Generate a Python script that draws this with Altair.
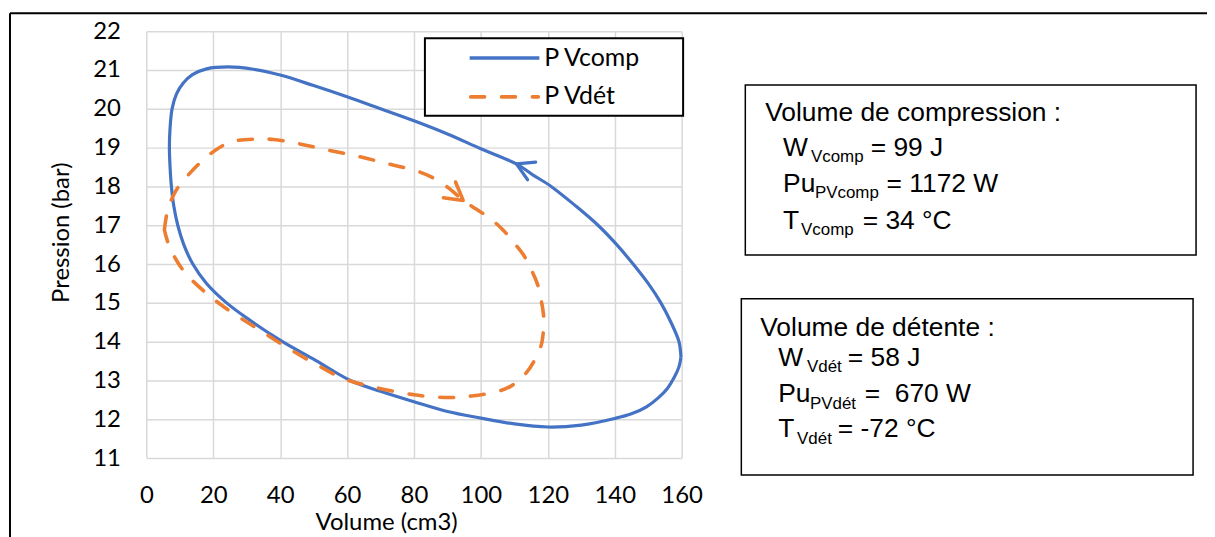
import altair as alt
import pandas as pd

# ---------------- data ----------------
x_ticks = [0, 20, 40, 60, 80, 100, 120, 140, 160]
y_ticks = [11, 12, 13, 14, 15, 16, 17, 18, 19, 20, 21, 22]
series_names = ["P Vcomp", "P Vdét"]

vcomp_volume = [159.8, 159.2, 156.8, 153.8, 150.0, 145.5, 140.6, 135.0, 128.3, 121.0,
                115.5, 110.6, 100.0, 90.0, 80.0, 70.0, 60.0, 50.0, 40.0, 32.0,
                24.5, 18.0, 13.8, 11.0, 9.0, 7.7, 7.1, 6.9, 7.1, 7.5,
                8.2, 9.4, 11.2, 13.9, 18.0, 24.0, 31.0, 40.7, 50.6, 61.0,
                70.0, 80.0, 90.0, 100.0, 110.0, 120.0, 130.0, 140.0, 145.0, 149.5,
                153.0, 155.8, 157.8, 159.2, 159.8]
vcomp_pressure = [13.6, 14.0, 14.5, 15.0, 15.5, 16.0, 16.5, 17.0, 17.5, 18.0,
                  18.3, 18.58, 18.97, 19.35, 19.69, 20.0, 20.31, 20.6, 20.87, 21.02,
                  21.08, 21.03, 20.88, 20.66, 20.38, 20.0, 19.5, 19.0, 18.5, 18.0,
                  17.5, 17.0, 16.5, 16.0, 15.5, 15.0, 14.55, 14.0, 13.52, 13.0,
                  12.72, 12.45, 12.2, 12.03, 11.88, 11.8, 11.85, 12.02, 12.14, 12.32,
                  12.55, 12.8, 13.08, 13.35, 13.6]

vdet_volume = [5.4, 6.4, 8.9, 12.9, 17.9, 22.8, 27.0, 32.5, 38.0, 45.6,
               54.1, 63.5, 72.9, 80.4, 85.3, 90.5, 94.7, 98.7, 102.7, 106.6,
               109.6, 112.7, 114.9, 116.8, 118.0, 118.8, 118.6, 118.0, 116.2, 113.6,
               109.1, 105.1, 97.2, 90.0, 80.0, 68.5, 59.5, 50.6, 41.7, 33.7,
               25.8, 17.9, 10.9, 6.9, 5.4]
vdet_pressure = [16.88, 17.39, 17.9, 18.33, 18.75, 19.05, 19.18, 19.22, 19.21, 19.1,
                 18.94, 18.77, 18.57, 18.41, 18.24, 17.95, 17.64, 17.41, 17.18, 16.88,
                 16.58, 16.24, 15.88, 15.51, 15.08, 14.6, 14.2, 13.9, 13.55, 13.2,
                 12.86, 12.72, 12.6, 12.56, 12.63, 12.82, 13.03, 13.42, 13.87, 14.31,
                 14.74, 15.25, 15.85, 16.45, 16.88]

# direction arrows sitting on each loop
arrow_volume = [110.6, 94.7]
arrow_pressure = [18.58, 17.64]

axis_x_title = "Volume (cm3)"
axis_y_title = "Pression (bar)"

box1_title = "Volume de compression :"
box1_rows = [("W", "Vcomp", "= 99 J"), ("Pu", "PVcomp", "= 1172 W"), ("T", "Vcomp", "= 34 °C")]
box2_title = "Volume de détente :"
box2_rows = [("W", "Vdét", "= 58 J"), ("Pu", "PVdét", "= \u00a0670 W"), ("T", "Vdét", "= -72 °C")]

# ---------------- layout ----------------
BLUE = "#4472C4"
ORANGE = "#ED7D31"
W, H = 538, 429
OX, OY = 147, 30          # page position of the plot origin
PAD_L, PAD_T, PAD_R, PAD_B = OX - 8, OY - 8, 528, 78
AX_FONT = "Lato"
BOX_FONT = "Liberation Sans"
MAIN_SIZE = 26.5
SUB_SIZE = 17


def px(x):
    return x - OX


def py(y):
    return y - OY


one = pd.DataFrame({"k": [0]})


def text_layer(s, x, y, size, font=BOX_FONT):
    return alt.Chart(one).mark_text(
        text=s, font=font, fontSize=size, align="left", baseline="alphabetic", color="black"
    ).encode(x=alt.value(px(x)), y=alt.value(py(y)))


def rect_layer(x1, y1, x2, y2, sw):
    return alt.Chart(one).mark_rect(fill="white", stroke="black", strokeWidth=sw).encode(
        x=alt.value(px(x1)), x2=alt.value(px(x2)), y=alt.value(py(y1)), y2=alt.value(py(y2)))


df_comp = pd.DataFrame({"Volume": vcomp_volume, "Pression": vcomp_pressure,
                        "Série": series_names[0], "ordre": list(range(len(vcomp_volume)))})
df_det = pd.DataFrame({"Volume": vdet_volume, "Pression": vdet_pressure,
                       "Série": series_names[1], "ordre": list(range(len(vdet_volume)))})

x_enc = alt.X("Volume:Q",
              scale=alt.Scale(domain=[0, 160], nice=False, zero=False),
              axis=alt.Axis(values=x_ticks, tickCount=30, format="d", title=axis_x_title,
                            grid=True, gridColor="#d9d9d9", gridWidth=1.5, domain=False,
                            ticks=False, labelFont=AX_FONT, labelFontSize=24,
                            labelColor="black", labelPadding=26, labelFlush=False,
                            labelOverlap=False, titleFont=AX_FONT, titleFontSize=24,
                            titleFontWeight="normal", titleColor="black", titleX=388 - OX,
                            titleY=524 - (OY + H), titleAlign="center",
                            titleBaseline="middle"))
y_enc = alt.Y("Pression:Q",
              scale=alt.Scale(domain=[11, 22], nice=False, zero=False),
              axis=alt.Axis(values=y_ticks, tickCount=30, format="d", title=axis_y_title,
                            grid=True, gridColor="#d9d9d9", gridWidth=1.5, domain=False,
                            ticks=False, labelFont=AX_FONT, labelFontSize=24,
                            labelColor="black", labelPadding=26, labelFlush=False,
                            labelOverlap=False, titleFont=AX_FONT, titleFontSize=24,
                            titleFontWeight="normal", titleColor="black", titleAngle=270,
                            titleX=62 - OX, titleY=232 - OY, titleAlign="center",
                            titleBaseline="middle"))

line_comp = alt.Chart(df_comp).mark_line(
    color=BLUE, strokeWidth=3.2, interpolate="catmull-rom", strokeJoin="round"
).encode(x=x_enc, y=y_enc, order="ordre:Q")

line_det = alt.Chart(df_det).mark_line(
    color=ORANGE, strokeWidth=3.6, interpolate="catmull-rom", strokeDash=[14, 17],
    strokeCap="round"
).encode(x=x_enc, y=y_enc, order="ordre:Q")

chevron = "M -0.866 -0.5 L 0 0 L -0.866 0.5"
arrow_comp = alt.Chart(pd.DataFrame({"Volume": [arrow_volume[0]], "Pression": [arrow_pressure[0]]})).mark_point(
    shape=chevron, filled=False, color=BLUE, strokeWidth=3.2, size=1521, angle=204.5,
    opacity=1, strokeCap="round", strokeJoin="round"
).encode(x=x_enc, y=y_enc)
arrow_det = alt.Chart(pd.DataFrame({"Volume": [arrow_volume[1]], "Pression": [arrow_pressure[1]]})).mark_point(
    shape=chevron, filled=False, color=ORANGE, strokeWidth=3.6, size=1600, angle=37.5,
    opacity=1, strokeCap="round", strokeJoin="round"
).encode(x=x_enc, y=y_enc)

# legend (drawn by hand to match the framed Excel legend)
legend_box = rect_layer(427, 37, 686.5, 115, 2)
legend_blue = alt.Chart(one).mark_rule(color=BLUE, strokeWidth=3.5).encode(
    x=alt.value(px(472)), x2=alt.value(px(542)), y=alt.value(py(57)))
legend_orange = alt.Chart(one).mark_rule(color=ORANGE, strokeWidth=3.6, strokeDash=[14, 17],
                                         strokeCap="round").encode(
    x=alt.value(px(473)), x2=alt.value(px(541)), y=alt.value(py(96)))
legend_t1 = text_layer(series_names[0], 547, 65, 25, AX_FONT)
legend_t2 = text_layer(series_names[1], 547, 103.5, 25, AX_FONT)

layers = [line_comp, line_det, arrow_comp, arrow_det,
          legend_box, legend_blue, legend_orange, legend_t1, legend_t2]

# text boxes
layers.append(rect_layer(749, 84, 1202, 255, 1.5))
layers.append(text_layer(box1_title, 769, 120, MAIN_SIZE))
b1_main_x = 787
b1_sub_x = [815, 819, 805]
b1_rest_x = [875, 891, 867]
b1_base = [155, 192, 228.5]
for (m, s, r), sx, rx, by in zip(box1_rows, b1_sub_x, b1_rest_x, b1_base):
    layers.append(text_layer(m, b1_main_x, by, MAIN_SIZE))
    layers.append(text_layer(s, sx, by + 6, SUB_SIZE))
    layers.append(text_layer(r, rx, by, MAIN_SIZE))

layers.append(rect_layer(745, 299, 1199, 476, 1.5))
layers.append(text_layer(box2_title, 764, 336, MAIN_SIZE))
b2_main_x = 782
b2_sub_x = [811, 814, 801]
b2_rest_x = [852, 869, 842]
b2_base = [366, 403, 438.3]
for (m, s, r), sx, rx, by in zip(box2_rows, b2_sub_x, b2_rest_x, b2_base):
    layers.append(text_layer(m, b2_main_x, by, MAIN_SIZE))
    layers.append(text_layer(s, sx, by + 6.5, SUB_SIZE))
    layers.append(text_layer(r, rx, by, MAIN_SIZE))

# outer frame (top and left edges visible)
layers.append(alt.Chart(one).mark_rule(color="black", strokeWidth=2).encode(
    x=alt.value(px(10)), x2=alt.value(px(1214)), y=alt.value(py(12))))
layers.append(alt.Chart(one).mark_rule(color="black", strokeWidth=2).encode(
    x=alt.value(px(10)), y=alt.value(py(12)), y2=alt.value(H + PAD_B + 5)))

chart = alt.layer(*layers).properties(
    width=W, height=H,
    autosize=alt.AutoSizeParams(type="none"),
    padding={"left": PAD_L, "top": PAD_T, "right": PAD_R, "bottom": PAD_B},
    background="white",
).configure_view(stroke="transparent")

chart.save("out.html", embed_options={"renderer": "svg", "actions": False})
